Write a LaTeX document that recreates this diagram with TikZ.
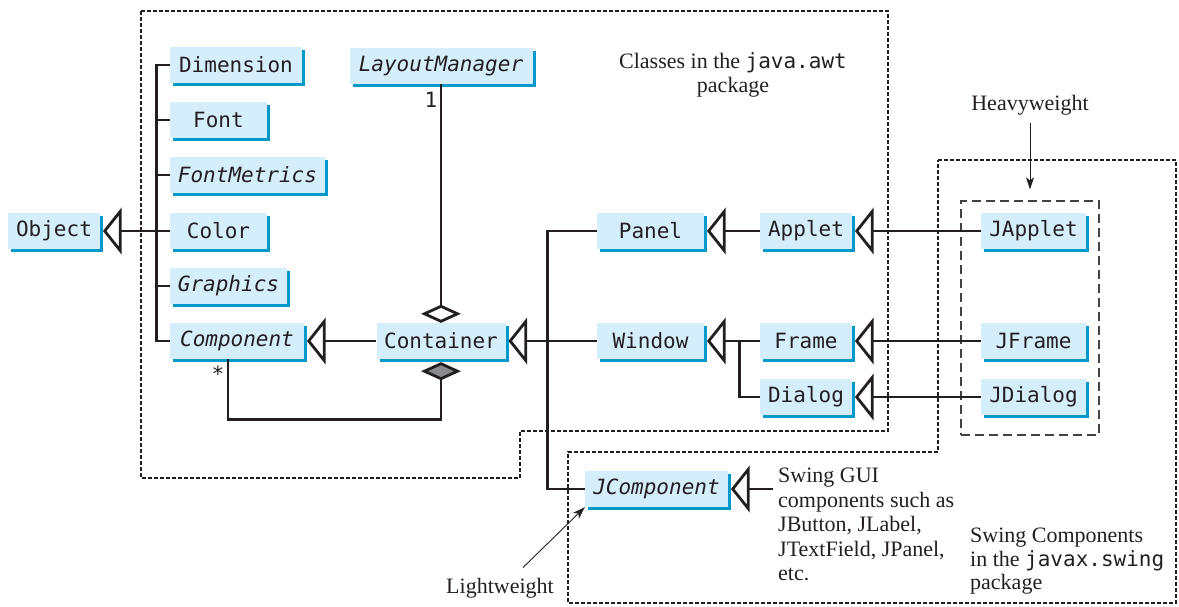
\documentclass[tikz,border=0pt]{standalone}
\usepackage{fontspec}
\setmainfont{Liberation Serif}
\setmonofont{DejaVu Sans Mono}
\usetikzlibrary{arrows.meta,shadows}
\definecolor{boxfill}{HTML}{D5EEFB}
\definecolor{boxshadow}{HTML}{0099CC}
\definecolor{ink}{HTML}{231F20}
\definecolor{dgray}{HTML}{8A8A8C}
\newcommand\monotxt[1]{{\ttfamily\fontsize{21}{24}\selectfont #1}}
% UML generalization head: hollow triangle
\pgfdeclarearrow{
  name = GenTri,
  setup code = {
    \pgfarrowssettipend{0pt}
    \pgfarrowssetbackend{-18.5pt}
    \pgfarrowssetlineend{-17pt}
    \pgfarrowssetvisualbackend{-17pt}
    \pgfarrowshullpoint{0pt}{0pt}
    \pgfarrowshullpoint{-18.5pt}{22pt}
    \pgfarrowshullpoint{-18.5pt}{-22pt}
  },
  drawing code = {
    \pgfsetdash{}{0pt}
    \pgfsetmiterjoin
    \pgfpathmoveto{\pgfqpoint{-1.5pt}{0pt}}
    \pgfpathlineto{\pgfqpoint{-17pt}{19.5pt}}
    \pgfpathlineto{\pgfqpoint{-17pt}{-19.5pt}}
    \pgfpathclose
    \pgfusepathqstroke
  },
}
% aggregation head: hollow diamond
\pgfdeclarearrow{
  name = AggDia,
  setup code = {
    \pgfarrowssettipend{0pt}
    \pgfarrowssetbackend{-18pt}
    \pgfarrowssetlineend{-16.5pt}
    \pgfarrowssetvisualbackend{-16.5pt}
    \pgfarrowshullpoint{0pt}{0pt}
    \pgfarrowshullpoint{-9pt}{19pt}
    \pgfarrowshullpoint{-9pt}{-19pt}
    \pgfarrowshullpoint{-18pt}{0pt}
  },
  drawing code = {
    \pgfsetdash{}{0pt}
    \pgfsetmiterjoin
    \pgfpathmoveto{\pgfqpoint{-1.5pt}{0pt}}
    \pgfpathlineto{\pgfqpoint{-9pt}{16.5pt}}
    \pgfpathlineto{\pgfqpoint{-16.5pt}{0pt}}
    \pgfpathlineto{\pgfqpoint{-9pt}{-16.5pt}}
    \pgfpathclose
    \pgfusepathqstroke
  },
}
% composition head: filled diamond
\pgfdeclarearrow{
  name = ComDia,
  setup code = {
    \pgfarrowssettipend{0pt}
    \pgfarrowssetbackend{-18pt}
    \pgfarrowssetlineend{-16.5pt}
    \pgfarrowssetvisualbackend{-16.5pt}
    \pgfarrowshullpoint{0pt}{0pt}
    \pgfarrowshullpoint{-9pt}{19pt}
    \pgfarrowshullpoint{-9pt}{-19pt}
    \pgfarrowshullpoint{-18pt}{0pt}
  },
  drawing code = {
    \pgfsetdash{}{0pt}
    \pgfsetmiterjoin
    \pgfsetfillcolor{dgray}
    \pgfpathmoveto{\pgfqpoint{-1.5pt}{0pt}}
    \pgfpathlineto{\pgfqpoint{-9pt}{16.5pt}}
    \pgfpathlineto{\pgfqpoint{-16.5pt}{0pt}}
    \pgfpathlineto{\pgfqpoint{-9pt}{-16.5pt}}
    \pgfpathclose
    \pgfusepathqfillstroke
  },
}
\begin{document}
\begin{tikzpicture}[x=1pt,y=-1pt,
  cls/.style={fill=boxfill, minimum height=36pt, inner sep=0pt,
    font=\ttfamily\fontsize{21}{24}\selectfont, text=ink,
    drop shadow={shadow xshift=3pt, shadow yshift=-3pt, fill=boxshadow, opacity=1}},
  absbox/.style={cls, font=\ttfamily\itshape\fontsize{21}{24}\selectfont},
  conn/.style={draw=ink, line width=2.8pt},
  inh/.style={conn, shorten >=3pt, -{GenTri}},
  pkg/.style={draw=ink, line width=2.6pt, dash pattern=on 4pt off 2pt},
  note/.style={font=\fontsize{22}{24.5}\selectfont, text=ink, inner sep=0pt},
  pointer/.style={draw=ink, line width=0.9pt, -{Stealth[length=12pt, width=8pt, inset=3pt]}},
  mult/.style={font=\ttfamily\fontsize{21}{24}\selectfont, text=ink, inner sep=0pt},
]
\useasboundingbox (0,0) rectangle (1179,606);

% package outlines
\draw[pkg] (141,11) -- (888,11) -- (888,431) -- (520,431) -- (520,478) -- (141,478) -- cycle;
\draw[pkg] (938,160) -- (1176,160) -- (1176,603) -- (568,603) -- (568,452) -- (938,452) -- cycle;
\node[draw=ink!85, line width=1.2pt, dash pattern=on 9pt off 5pt, minimum width=138pt,
      minimum height=234pt, inner sep=0pt] (hwbox) at (1030,318) {};

% classes
\node[cls, minimum width=92pt]  (Object)        at (54,231)  {Object};
\node[cls, minimum width=132pt] (Dimension)     at (236,65)  {Dimension};
\node[cls, minimum width=97pt]  (Font)          at (218.5,120) {Font};
\node[absbox, minimum width=155pt] (FontMetrics) at (247.5,175) {FontMetrics};
\node[cls, minimum width=97pt]  (Color)         at (218.5,231) {Color};
\node[absbox, minimum width=117pt] (Graphics)   at (228.5,286) {Graphics};
\node[absbox, minimum width=134pt] (Component)  at (237,341) {Component};
\node[absbox, minimum width=183pt] (LayoutManager) at (441,66) {LayoutManager};
\node[cls, minimum width=129pt] (Container)     at (441,341) {Container};
\node[cls, minimum width=107pt] (Panel)         at (650.5,231) {Panel};
\node[cls, minimum width=92pt]  (Applet)        at (806,231) {Applet};
\node[cls, minimum width=107pt] (Window)        at (650.5,341) {Window};
\node[cls, minimum width=92pt]  (Frame)         at (806,341) {Frame};
\node[cls, minimum width=92pt]  (Dialog)        at (806,397) {Dialog};
\node[cls, minimum width=105pt] (JApplet)       at (1033.5,231) {JApplet};
\node[cls, minimum width=105pt] (JFrame)        at (1033.5,341) {JFrame};
\node[cls, minimum width=105pt] (JDialog)       at (1033.5,397) {JDialog};
\node[absbox, minimum width=143pt] (JComponent) at (656.5,489) {JComponent};

% texts
\node[note, align=center, anchor=north] (awtpkg) at (733,52) {Classes in the \monotxt{java.awt}\\package};
\node[note, anchor=base] (heavy) at (1030,110) {Heavyweight};
\node[note, anchor=base] (light) at (500,593) {Lightweight};
\node[note, align=left, anchor=north west] (guitext) at (778,468)
  {Swing GUI\\components such as\\JButton, JLabel,\\JTextField, JPanel,\\etc.};
\node[note, align=left, anchor=north west, font=\fontsize{22}{23.5}\selectfont] (swingpkg) at (970,528)
  {Swing Components\\in the \monotxt{javax.swing}\\package};
\node[mult] (one) at (431,100) {1};
\node[mult] (star) at (218,374) {*};

% connectors
\draw[conn] (Dimension.west) -- ++(-13,0) |- (Component.west);
\foreach \n in {Font,FontMetrics,Graphics} \draw[conn] (\n.west) -- ++(-13,0);
\draw[inh] (Color.west) -- (Object.east);
\draw[inh] (Container.west) -- (Component.east);
\draw[conn, -{AggDia}] (LayoutManager.south) -- (Container.north);
\draw[conn, {ComDia}-] ([yshift=-3pt]Container.south) -- ++(0,57) -| ([xshift=-9pt]Component.south);
\draw[inh] (Window.west) -- (Container.east);
\draw[conn] (Panel.west) -- ++(-49,0) |- (JComponent.west);
\draw[inh] (Applet.west) -- (Panel.east);
\draw[inh] (Frame.west) -- (Window.east);
\draw[conn] (Dialog.west) -- ++(-20,0) |- (Frame.west);
\draw[inh] (JApplet.west) -- (Applet.east);
\draw[inh] (JFrame.west) -- (Frame.east);
\draw[inh] (JDialog.west) -- (Dialog.east);
\coordinate (gl) at (773,489);
\draw[inh] (gl) -- (JComponent.east);
\draw[pointer] ([yshift=-8pt]heavy.south) -- ([yshift=11pt]hwbox.north);
\draw[pointer] ([xshift=23pt,yshift=10pt]light.north) -- (JComponent.south west);
\end{tikzpicture}
\end{document}
